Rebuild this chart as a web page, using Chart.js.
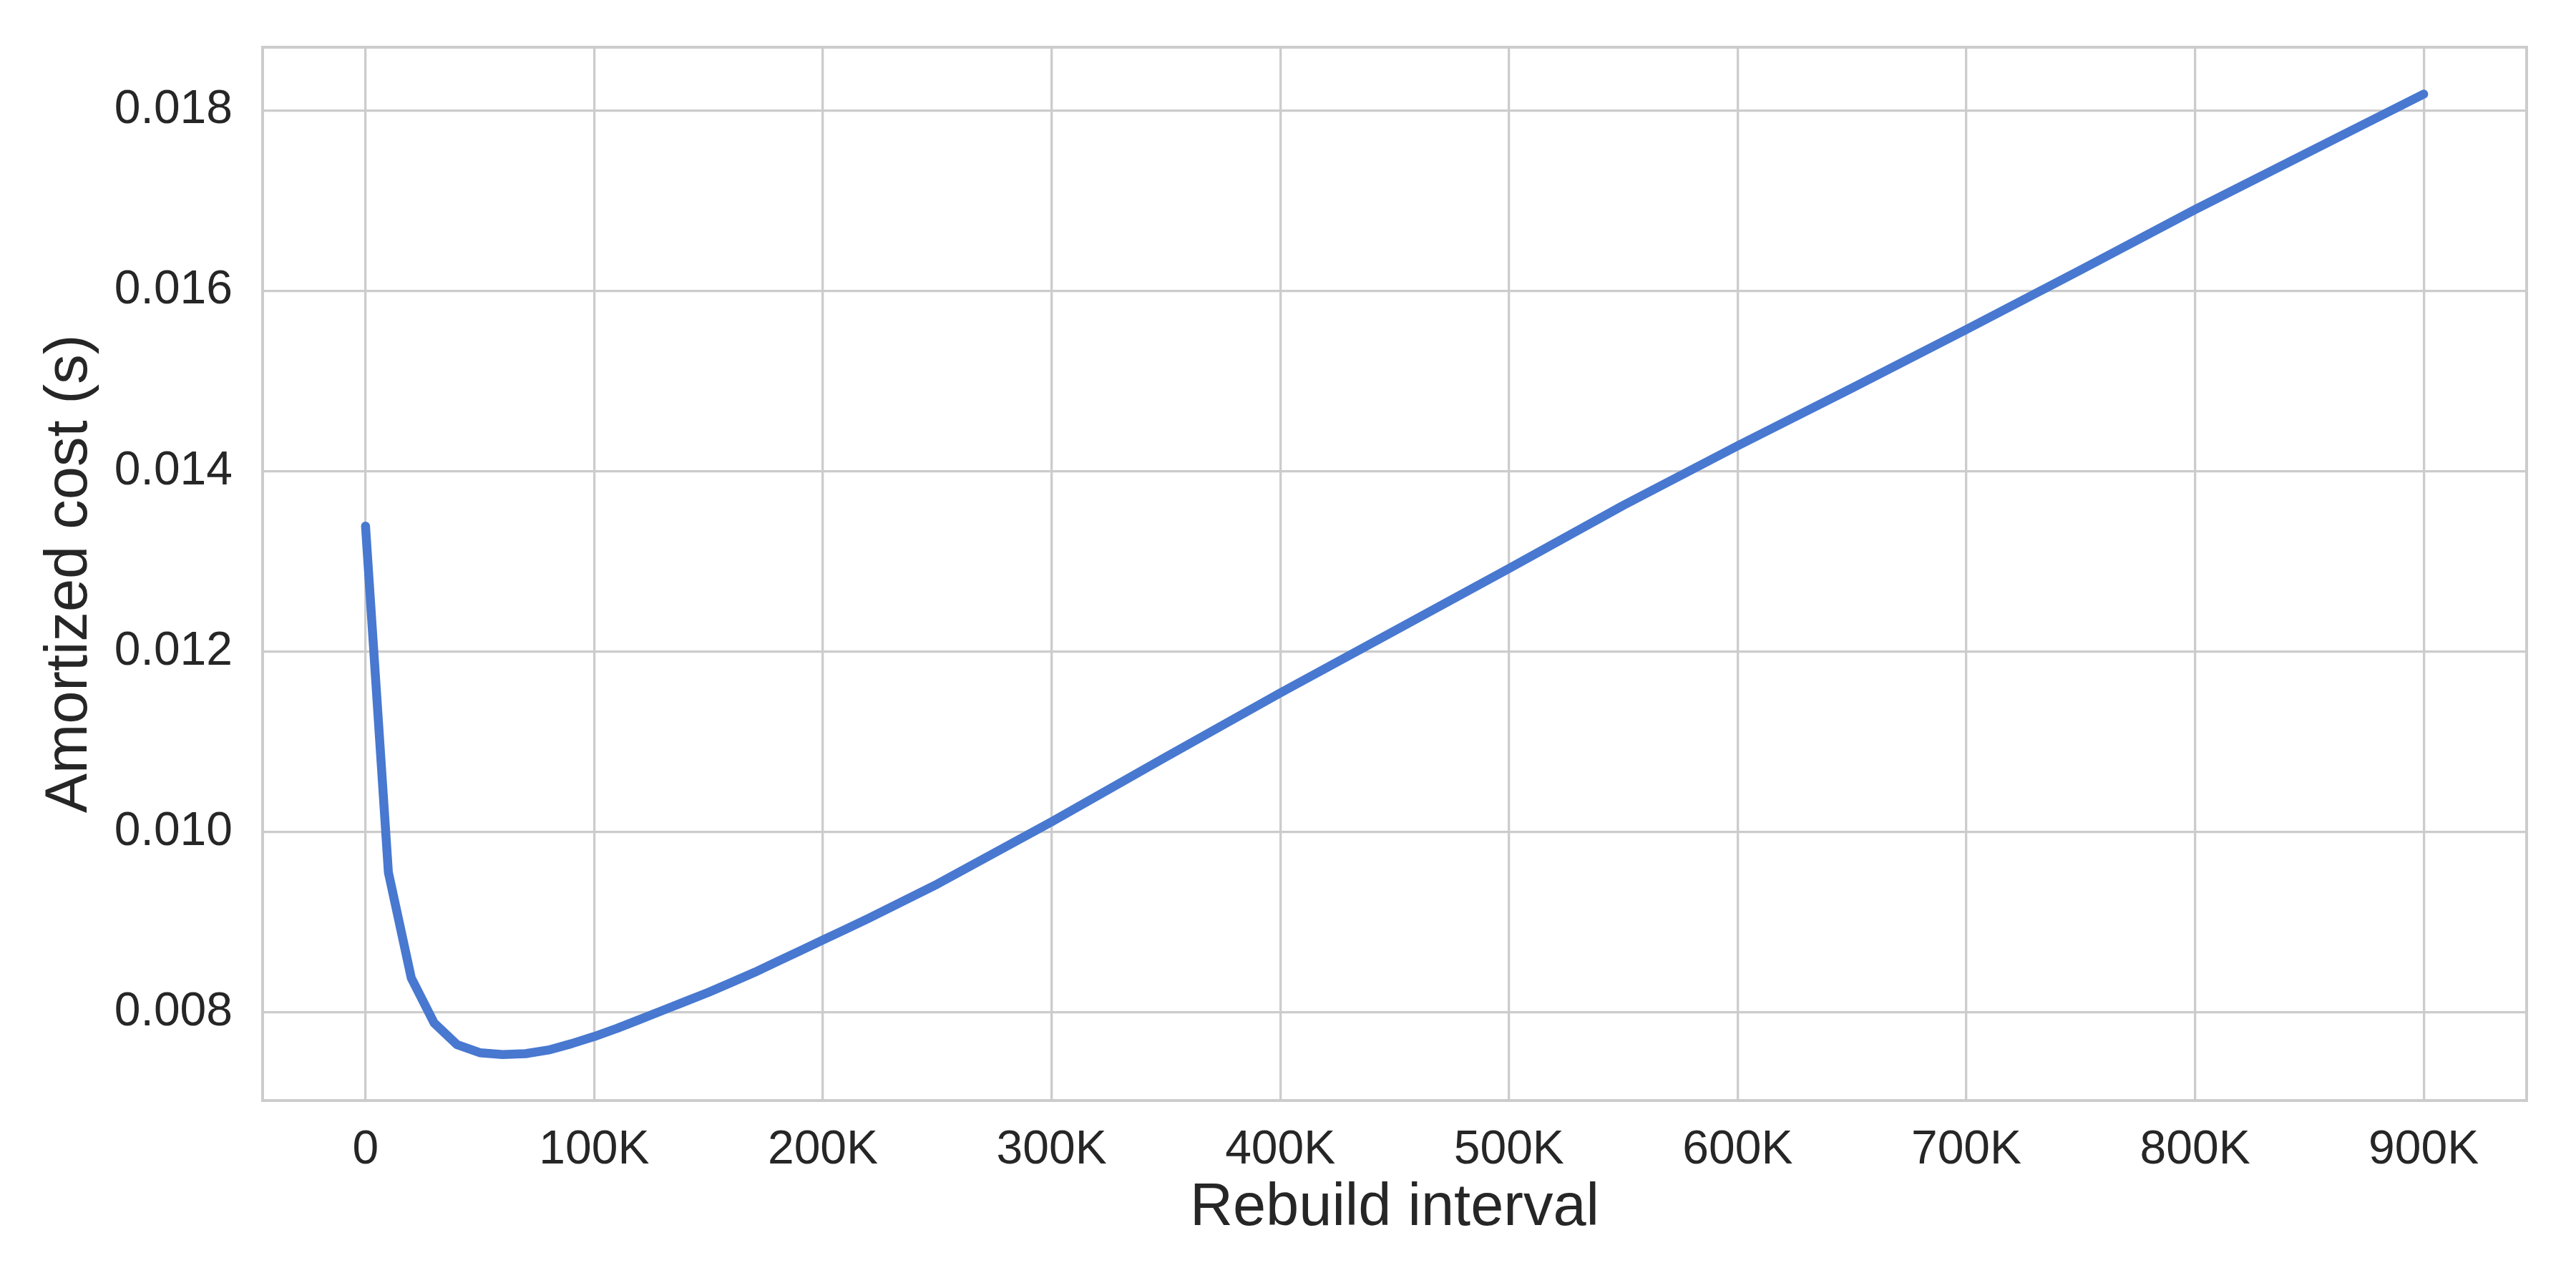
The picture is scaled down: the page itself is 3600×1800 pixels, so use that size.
<!DOCTYPE html>
<html>
<head>
<meta charset="utf-8">
<script src="https://cdn.jsdelivr.net/npm/chart.js@4.4.1/dist/chart.umd.min.js"></script>
<style>
  html, body { margin: 0; padding: 0; background: #fff; }
  #wrap { width: 3600px; height: 1800px; }
</style>
</head>
<body>
<div id="wrap"><canvas id="costChart" width="3600" height="1800"></canvas></div>
<script>
// ── Data ─────────────────────────────────────────────────────────────
const rebuildInterval = [
  0, 10000, 20000, 30000, 40000, 50000, 60000, 70000, 80000, 90000,
  100000, 110000, 120000, 130000, 140000, 150000, 160000, 170000, 180000, 190000,
  200000, 210000, 220000, 250000, 300000, 350000, 400000, 450000, 500000,
  550000, 600000, 650000, 700000, 750000, 800000, 850000, 900000,
];
const amortizedCost = [
  0.01339, 0.00955, 0.00838, 0.00788, 0.00764, 0.00755, 0.00753, 0.00754, 0.00758, 0.00765,
  0.00773, 0.00782, 0.00792, 0.00802, 0.00812, 0.00822, 0.00833, 0.00844, 0.00856, 0.00868,
  0.00880, 0.00892, 0.00904, 0.00942, 0.01011, 0.01083, 0.01154, 0.01223, 0.01292,
  0.01362, 0.01428, 0.01492, 0.01557, 0.01623, 0.01690, 0.01754, 0.01818,
];

const xTickValues = [0, 100000, 200000, 300000, 400000, 500000, 600000, 700000, 800000, 900000];
const xTickLabels = ['0', '100K', '200K', '300K', '400K', '500K', '600K', '700K', '800K', '900K'];
const yTickValues = [0.008, 0.010, 0.012, 0.014, 0.016, 0.018];
const yTickLabels = ['0.008', '0.010', '0.012', '0.014', '0.016', '0.018'];

const xTitle = 'Rebuild interval';
const yTitle = 'Amortized cost (s)';

// ── Look ─────────────────────────────────────────────────────────────
const FONT   = "'Liberation Sans', Arial, sans-serif";
const INK    = '#262626';
const GRID   = '#cccccc';
const LINE   = '#4878d0';

// plain frame round the plot area (all four spines)
const framePlugin = {
  id: 'frame',
  afterDraw(chart) {
    const { ctx, chartArea: a } = chart;
    ctx.save();
    ctx.strokeStyle = GRID;
    ctx.lineWidth = 4;
    ctx.strokeRect(a.left, a.top, a.right - a.left, a.bottom - a.top);
    ctx.restore();
  },
};

const points = rebuildInterval.map((x, i) => ({ x, y: amortizedCost[i] }));

new Chart(document.getElementById('costChart').getContext('2d'), {
  type: 'line',
  data: {
    datasets: [{
      data: points,
      borderColor: LINE,
      backgroundColor: LINE,
      borderWidth: 12.5,
      borderCapStyle: 'round',
      borderJoinStyle: 'round',
      pointRadius: 0,
      tension: 0,
      fill: false,
    }],
  },
  options: {
    responsive: false,
    animation: false,
    devicePixelRatio: 1,
    layout: { padding: { top: 66, right: 69, left: 0, bottom: 0 } },
    plugins: { legend: { display: false }, tooltip: { enabled: false } },
    scales: {
      x: {
        type: 'linear',
        min: -45000,
        max: 945000,
        afterBuildTicks: s => { s.ticks = xTickValues.map(v => ({ value: v })); },
        afterFit: s => { s.height = 262; s.paddingLeft = 0; s.paddingRight = 0; },
        ticks: {
          color: INK,
          font: { family: FONT, size: 66 },
          padding: 30,
          maxRotation: 0,
          autoSkip: false,
          callback: v => xTickLabels[xTickValues.indexOf(v)],
        },
        grid: { color: GRID, lineWidth: 3.3, drawTicks: false },
        border: { display: false },
        title: {
          display: true, text: xTitle, color: INK,
          font: { family: FONT, size: 83 },
          padding: { top: 0, bottom: 61 },
        },
      },
      y: {
        type: 'linear',
        min: 0.00702,
        max: 0.0187,
        afterBuildTicks: s => { s.ticks = yTickValues.map(v => ({ value: v })); },
        afterFit: s => { s.width = 367; s.paddingTop = 0; s.paddingBottom = 0; },
        ticks: {
          color: INK,
          font: { family: FONT, size: 66 },
          padding: 42,
          autoSkip: false,
          callback: v => yTickLabels[yTickValues.findIndex(t => Math.abs(t - v) < 1e-9)],
        },
        grid: { color: GRID, lineWidth: 3.3, drawTicks: false },
        border: { display: false },
        title: {
          display: true, text: yTitle, color: INK,
          font: { family: FONT, size: 83 },
          padding: { top: 48, bottom: 0 },
        },
      },
    },
  },
  plugins: [framePlugin],
});
</script>
</body>
</html>
